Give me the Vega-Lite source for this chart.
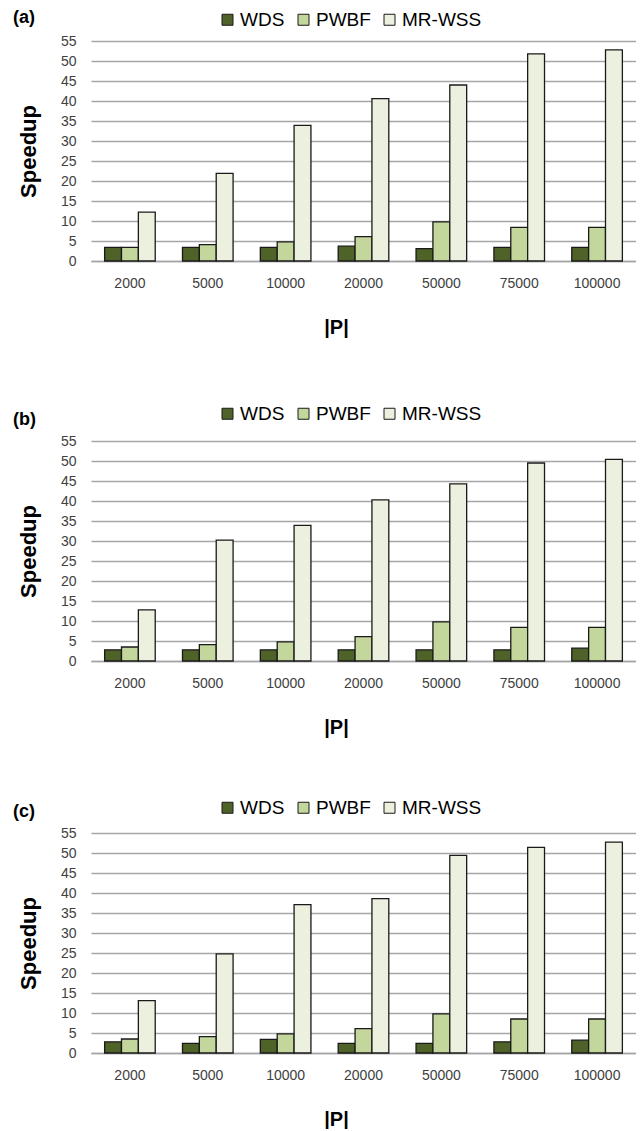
{
  "$schema": "https://vega.github.io/schema/vega-lite/v6.json",
  "padding": {"left": 13, "top": 9, "right": 0, "bottom": 0},
  "background": "white",
  "config": {
    "view": {"stroke": null},
    "font": "Liberation Sans",
    "axis": {"labelFont": "Liberation Sans", "titleFont": "Liberation Sans"}
  },
  "datasets": {
    "speedup": [
      {"panel": "a", "P": "2000", "method": "WDS", "speedup": 3.4},
      {"panel": "a", "P": "5000", "method": "WDS", "speedup": 3.4},
      {"panel": "a", "P": "10000", "method": "WDS", "speedup": 3.4},
      {"panel": "a", "P": "20000", "method": "WDS", "speedup": 3.7},
      {"panel": "a", "P": "50000", "method": "WDS", "speedup": 3.1},
      {"panel": "a", "P": "75000", "method": "WDS", "speedup": 3.4},
      {"panel": "a", "P": "100000", "method": "WDS", "speedup": 3.4},
      {"panel": "a", "P": "2000", "method": "PWBF", "speedup": 3.4},
      {"panel": "a", "P": "5000", "method": "PWBF", "speedup": 4.1},
      {"panel": "a", "P": "10000", "method": "PWBF", "speedup": 4.8},
      {"panel": "a", "P": "20000", "method": "PWBF", "speedup": 6.1},
      {"panel": "a", "P": "50000", "method": "PWBF", "speedup": 9.8},
      {"panel": "a", "P": "75000", "method": "PWBF", "speedup": 8.4},
      {"panel": "a", "P": "100000", "method": "PWBF", "speedup": 8.4},
      {"panel": "a", "P": "2000", "method": "MR-WSS", "speedup": 12.2},
      {"panel": "a", "P": "5000", "method": "MR-WSS", "speedup": 21.9},
      {"panel": "a", "P": "10000", "method": "MR-WSS", "speedup": 33.9},
      {"panel": "a", "P": "20000", "method": "MR-WSS", "speedup": 40.6},
      {"panel": "a", "P": "50000", "method": "MR-WSS", "speedup": 44.0},
      {"panel": "a", "P": "75000", "method": "MR-WSS", "speedup": 51.8},
      {"panel": "a", "P": "100000", "method": "MR-WSS", "speedup": 52.8},
      {"panel": "b", "P": "2000", "method": "WDS", "speedup": 2.8},
      {"panel": "b", "P": "5000", "method": "WDS", "speedup": 2.8},
      {"panel": "b", "P": "10000", "method": "WDS", "speedup": 2.8},
      {"panel": "b", "P": "20000", "method": "WDS", "speedup": 2.8},
      {"panel": "b", "P": "50000", "method": "WDS", "speedup": 2.8},
      {"panel": "b", "P": "75000", "method": "WDS", "speedup": 2.8},
      {"panel": "b", "P": "100000", "method": "WDS", "speedup": 3.2},
      {"panel": "b", "P": "2000", "method": "PWBF", "speedup": 3.5},
      {"panel": "b", "P": "5000", "method": "PWBF", "speedup": 4.1},
      {"panel": "b", "P": "10000", "method": "PWBF", "speedup": 4.8},
      {"panel": "b", "P": "20000", "method": "PWBF", "speedup": 6.1},
      {"panel": "b", "P": "50000", "method": "PWBF", "speedup": 9.8},
      {"panel": "b", "P": "75000", "method": "PWBF", "speedup": 8.4},
      {"panel": "b", "P": "100000", "method": "PWBF", "speedup": 8.4},
      {"panel": "b", "P": "2000", "method": "MR-WSS", "speedup": 12.8},
      {"panel": "b", "P": "5000", "method": "MR-WSS", "speedup": 30.2},
      {"panel": "b", "P": "10000", "method": "MR-WSS", "speedup": 33.9},
      {"panel": "b", "P": "20000", "method": "MR-WSS", "speedup": 40.3},
      {"panel": "b", "P": "50000", "method": "MR-WSS", "speedup": 44.3},
      {"panel": "b", "P": "75000", "method": "MR-WSS", "speedup": 49.5},
      {"panel": "b", "P": "100000", "method": "MR-WSS", "speedup": 50.4},
      {"panel": "c", "P": "2000", "method": "WDS", "speedup": 2.8},
      {"panel": "c", "P": "5000", "method": "WDS", "speedup": 2.4},
      {"panel": "c", "P": "10000", "method": "WDS", "speedup": 3.4},
      {"panel": "c", "P": "20000", "method": "WDS", "speedup": 2.4},
      {"panel": "c", "P": "50000", "method": "WDS", "speedup": 2.4},
      {"panel": "c", "P": "75000", "method": "WDS", "speedup": 2.8},
      {"panel": "c", "P": "100000", "method": "WDS", "speedup": 3.2},
      {"panel": "c", "P": "2000", "method": "PWBF", "speedup": 3.5},
      {"panel": "c", "P": "5000", "method": "PWBF", "speedup": 4.1},
      {"panel": "c", "P": "10000", "method": "PWBF", "speedup": 4.8},
      {"panel": "c", "P": "20000", "method": "PWBF", "speedup": 6.1},
      {"panel": "c", "P": "50000", "method": "PWBF", "speedup": 9.8},
      {"panel": "c", "P": "75000", "method": "PWBF", "speedup": 8.5},
      {"panel": "c", "P": "100000", "method": "PWBF", "speedup": 8.5},
      {"panel": "c", "P": "2000", "method": "MR-WSS", "speedup": 13.1},
      {"panel": "c", "P": "5000", "method": "MR-WSS", "speedup": 24.8},
      {"panel": "c", "P": "10000", "method": "MR-WSS", "speedup": 37.1},
      {"panel": "c", "P": "20000", "method": "MR-WSS", "speedup": 38.6},
      {"panel": "c", "P": "50000", "method": "MR-WSS", "speedup": 49.4},
      {"panel": "c", "P": "75000", "method": "MR-WSS", "speedup": 51.4},
      {"panel": "c", "P": "100000", "method": "MR-WSS", "speedup": 52.7}
    ]
  },
  "bounds": "flush",
  "spacing": 180,
  "resolve": {"legend": {"color": "independent"}},
  "vconcat": [
    {
      "data": {"name": "speedup"},
      "title": {"text": "(a)", "anchor": "start", "frame": "group", "fontSize": 18, "fontWeight": "bold", "color": "#000000", "dx": -78, "dy": 29, "offset": 12},
      "width": 545,
      "height": 220,
      "transform": [{"filter": "datum.panel === 'a'"}],
      "mark": {"type": "bar", "stroke": "#1a1a1a", "strokeWidth": 1.3},
      "encoding": {
        "x": {"field": "P", "type": "nominal", "sort": ["2000", "5000", "10000", "20000", "50000", "75000", "100000"], "scale": {"paddingInner": 0.35, "paddingOuter": 0.175},
          "axis": {"title": "|P|", "labelAngle": 0, "labelFontSize": 14, "labelColor": "#404040", "labelPadding": 15, "ticks": false, "domainColor": "#a6a6a6", "domainWidth": 1.5, "titleFontSize": 20, "titleFontWeight": "bold", "titleColor": "#000000", "titleX": 245, "titleY": 66, "titleBaseline": "middle", "titleAlign": "center"}},
        "xOffset": {"field": "method", "sort": ["WDS", "PWBF", "MR-WSS"], "scale": {"paddingInner": 0, "paddingOuter": 0}},
        "y": {"field": "speedup", "type": "quantitative", "scale": {"domain": [0, 55], "nice": false},
          "axis": {"title": "Speedup", "values": [0, 5, 10, 15, 20, 25, 30, 35, 40, 45, 50, 55], "labelFontSize": 14, "labelColor": "#404040", "labelPadding": 15, "ticks": false, "domain": false, "gridColor": "#a6a6a6", "gridWidth": 1.5, "titleFontSize": 22, "titleFontWeight": "bold", "titleColor": "#000000", "titleX": -63, "titleY": 110, "titleAlign": "center", "titleBaseline": "middle"}},
        "color": {"field": "method", "type": "nominal", "sort": ["WDS", "PWBF", "MR-WSS"], "scale": {"domain": ["WDS", "PWBF", "MR-WSS"], "range": ["#4f6228", "#c3d69b", "#ebf1de"]},
          "legend": {"orient": "none", "legendX": 127, "legendY": -31, "direction": "horizontal", "title": null, "symbolType": "square", "symbolSize": 121, "symbolStrokeColor": "#1a1a1a", "symbolStrokeWidth": 1, "labelFontSize": 19, "labelColor": "#000000", "columnPadding": 9, "labelOffset": 3,
            "encode": {"symbols": {"update": {"stroke": {"value": "#1a1a1a"}, "strokeWidth": {"value": 1}}}}}}
      }
    },
    {
      "bounds": "flush",
      "spacing": 172,
      "resolve": {"legend": {"color": "independent"}},
      "vconcat": [
        {
          "data": {"name": "speedup"},
          "title": {"text": "(b)", "anchor": "start", "frame": "group", "fontSize": 18, "fontWeight": "bold", "color": "#000000", "dx": -78, "dy": 37, "offset": 12},
          "width": 545,
          "height": 220,
          "transform": [{"filter": "datum.panel === 'b'"}],
          "mark": {"type": "bar", "stroke": "#1a1a1a", "strokeWidth": 1.3},
          "encoding": {
            "x": {"field": "P", "type": "nominal", "sort": ["2000", "5000", "10000", "20000", "50000", "75000", "100000"], "scale": {"paddingInner": 0.35, "paddingOuter": 0.175},
              "axis": {"title": "|P|", "labelAngle": 0, "labelFontSize": 14, "labelColor": "#404040", "labelPadding": 15, "ticks": false, "domainColor": "#a6a6a6", "domainWidth": 1.5, "titleFontSize": 20, "titleFontWeight": "bold", "titleColor": "#000000", "titleX": 245, "titleY": 66, "titleBaseline": "middle", "titleAlign": "center"}},
            "xOffset": {"field": "method", "sort": ["WDS", "PWBF", "MR-WSS"], "scale": {"paddingInner": 0, "paddingOuter": 0}},
            "y": {"field": "speedup", "type": "quantitative", "scale": {"domain": [0, 55], "nice": false},
              "axis": {"title": "Speedup", "values": [0, 5, 10, 15, 20, 25, 30, 35, 40, 45, 50, 55], "labelFontSize": 14, "labelColor": "#404040", "labelPadding": 15, "ticks": false, "domain": false, "gridColor": "#a6a6a6", "gridWidth": 1.5, "titleFontSize": 22, "titleFontWeight": "bold", "titleColor": "#000000", "titleX": -63, "titleY": 110, "titleAlign": "center", "titleBaseline": "middle"}},
            "color": {"field": "method", "type": "nominal", "sort": ["WDS", "PWBF", "MR-WSS"], "scale": {"domain": ["WDS", "PWBF", "MR-WSS"], "range": ["#4f6228", "#c3d69b", "#ebf1de"]},
              "legend": {"orient": "none", "legendX": 127, "legendY": -37, "direction": "horizontal", "title": null, "symbolType": "square", "symbolSize": 121, "symbolStrokeColor": "#1a1a1a", "symbolStrokeWidth": 1, "labelFontSize": 19, "labelColor": "#000000", "columnPadding": 9, "labelOffset": 3,
                "encode": {"symbols": {"update": {"stroke": {"value": "#1a1a1a"}, "strokeWidth": {"value": 1}}}}}}
          }
        },
        {
          "data": {"name": "speedup"},
          "title": {"text": "(c)", "anchor": "start", "frame": "group", "fontSize": 18, "fontWeight": "bold", "color": "#000000", "dx": -78, "dy": 35, "offset": 12},
          "width": 545,
          "height": 220,
          "transform": [{"filter": "datum.panel === 'c'"}],
          "mark": {"type": "bar", "stroke": "#1a1a1a", "strokeWidth": 1.3},
          "encoding": {
            "x": {"field": "P", "type": "nominal", "sort": ["2000", "5000", "10000", "20000", "50000", "75000", "100000"], "scale": {"paddingInner": 0.35, "paddingOuter": 0.175},
              "axis": {"title": "|P|", "labelAngle": 0, "labelFontSize": 14, "labelColor": "#404040", "labelPadding": 15, "ticks": false, "domainColor": "#a6a6a6", "domainWidth": 1.5, "titleFontSize": 20, "titleFontWeight": "bold", "titleColor": "#000000", "titleX": 245, "titleY": 66, "titleBaseline": "middle", "titleAlign": "center"}},
            "xOffset": {"field": "method", "sort": ["WDS", "PWBF", "MR-WSS"], "scale": {"paddingInner": 0, "paddingOuter": 0}},
            "y": {"field": "speedup", "type": "quantitative", "scale": {"domain": [0, 55], "nice": false},
              "axis": {"title": "Speedup", "values": [0, 5, 10, 15, 20, 25, 30, 35, 40, 45, 50, 55], "labelFontSize": 14, "labelColor": "#404040", "labelPadding": 15, "ticks": false, "domain": false, "gridColor": "#a6a6a6", "gridWidth": 1.5, "titleFontSize": 22, "titleFontWeight": "bold", "titleColor": "#000000", "titleX": -63, "titleY": 110, "titleAlign": "center", "titleBaseline": "middle"}},
            "color": {"field": "method", "type": "nominal", "sort": ["WDS", "PWBF", "MR-WSS"], "scale": {"domain": ["WDS", "PWBF", "MR-WSS"], "range": ["#4f6228", "#c3d69b", "#ebf1de"]},
              "legend": {"orient": "none", "legendX": 127, "legendY": -35, "direction": "horizontal", "title": null, "symbolType": "square", "symbolSize": 121, "symbolStrokeColor": "#1a1a1a", "symbolStrokeWidth": 1, "labelFontSize": 19, "labelColor": "#000000", "columnPadding": 9, "labelOffset": 3,
                "encode": {"symbols": {"update": {"stroke": {"value": "#1a1a1a"}, "strokeWidth": {"value": 1}}}}}}
          }
        }
      ]
    }
  ]
}
